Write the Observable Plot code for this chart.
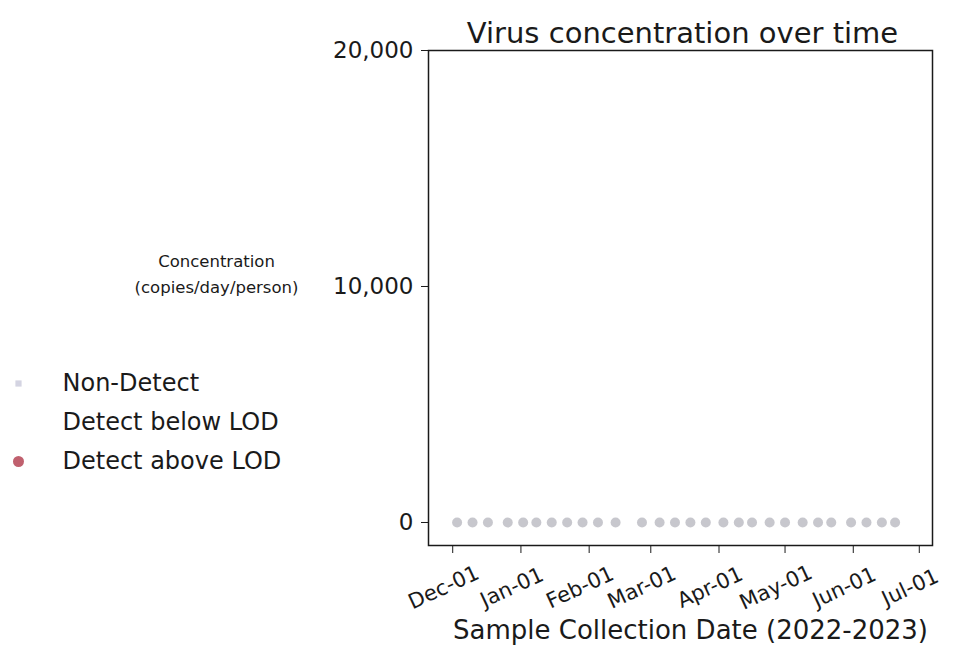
<!DOCTYPE html>
<html>
<head>
<meta charset="utf-8">
<script src="https://cdn.jsdelivr.net/npm/d3@7"></script>
<script src="https://cdn.jsdelivr.net/npm/@observablehq/plot@0.6"></script>
<style>
  body { margin: 0; background: #fff; }
  #chart { width: 956px; height: 667px; }
</style>
</head>
<body>
<div id="chart"></div>
<script>
// ---- Data ----
const sampleDates = ["2022-12-03","2022-12-10","2022-12-17","2022-12-26","2023-01-02","2023-01-08",
  "2023-01-15","2023-01-22","2023-01-29","2023-02-05","2023-02-13","2023-02-25","2023-03-05",
  "2023-03-12","2023-03-19","2023-03-26","2023-04-03","2023-04-10","2023-04-16","2023-04-24",
  "2023-05-01","2023-05-09","2023-05-16","2023-05-22","2023-05-31","2023-06-07","2023-06-14","2023-06-20"];
const concentrations = [0,0,0,0,0,0,0,0,0,0,0,0,0,0,0,0,0,0,0,0,0,0,0,0,0,0,0,0];
const statuses = Array(28).fill("Non-Detect");
const monthTicks = ["2022-12-01","2023-01-01","2023-02-01","2023-03-01","2023-04-01","2023-05-01","2023-06-01","2023-07-01"];
const yTicks = [0, 10000, 20000];
const xDomain = ["2022-11-20", "2023-07-07"];
const yDomain = [-975, 20000];
const legendLabels = ["Non-Detect", "Detect below LOD", "Detect above LOD"];
const legendColors = ["#d4d4e2", "none", "#c0606e"];
const titleText = "Virus concentration over time";
const yLabelText = "Concentration\n(copies/day/person)";
const xLabelText = "Sample Collection Date (2022-2023)";

// ---- Build ----
const data = sampleDates.map((d, i) => ({date: new Date(d), value: concentrations[i], status: statuses[i]}));
const ticksX = monthTicks.map(d => new Date(d));
const fmtX = d3.utcFormat("%b-%d");
const font = "DejaVu Sans, sans-serif";
const ink = "#1a1a1a";

const legendMarks = legendLabels.flatMap((label, i) => {
  const marks = [
    Plot.text([label], {text: d => d, frameAnchor: "top-left", dx: -366, dy: 333 + i * 39,
      textAnchor: "start", lineAnchor: "middle", fontSize: 24, fill: ink})
  ];
  if (legendColors[i] !== "none") {
    marks.push(Plot.dot([label], {frameAnchor: "top-left", dx: -410, dy: 333 + i * 39,
      r: i === 0 ? 3.5 : 5.5, symbol: i === 0 ? "square" : "circle", fill: legendColors[i], stroke: "none"}));
  }
  return marks;
});

const chart = Plot.plot({
  width: 956,
  height: 667,
  marginLeft: 428,
  marginRight: 24,
  marginTop: 50,
  marginBottom: 122,
  style: {fontFamily: font, color: ink, background: "#fff", overflow: "visible"},
  x: {type: "utc", domain: xDomain.map(d => new Date(d)), axis: null},
  y: {domain: yDomain, axis: null},
  marks: [
    Plot.frame({stroke: ink, strokeWidth: 1.5}),
    Plot.axisY({ticks: yTicks, tickFormat: d3.format(","), tickSize: 7, tickPadding: 8, label: null,
      fontSize: 23, stroke: ink, fill: ink}),
    Plot.axisX({ticks: ticksX, tickSize: 8, tickFormat: () => "", label: null, stroke: ink}),
    Plot.text(ticksX, {x: d => d, text: d => fmtX(d), frameAnchor: "bottom", dy: 42, dx: -9,
      rotate: -25, textAnchor: "middle", lineAnchor: "middle", fontSize: 21, fill: ink}),
    Plot.dot(data, {x: "date", y: "value", r: 5, fill: "#b4b4bc", fillOpacity: 0.75, stroke: "none"}),
    Plot.text([titleText], {text: d => d, frameAnchor: "top", dy: -17, dx: 2, fontSize: 29,
      lineAnchor: "middle", fill: ink}),
    Plot.text([yLabelText], {text: d => d, frameAnchor: "left", dx: -212, dy: -26, fontSize: 16.5,
      lineAnchor: "middle", textAnchor: "middle", lineHeight: 1.55, fill: ink}),
    Plot.text([xLabelText], {text: d => d, frameAnchor: "bottom", dy: 85, dx: 10, fontSize: 26,
      lineAnchor: "middle", fill: ink}),
    ...legendMarks
  ]
});
document.getElementById("chart").append(chart);
</script>
</body>
</html>
